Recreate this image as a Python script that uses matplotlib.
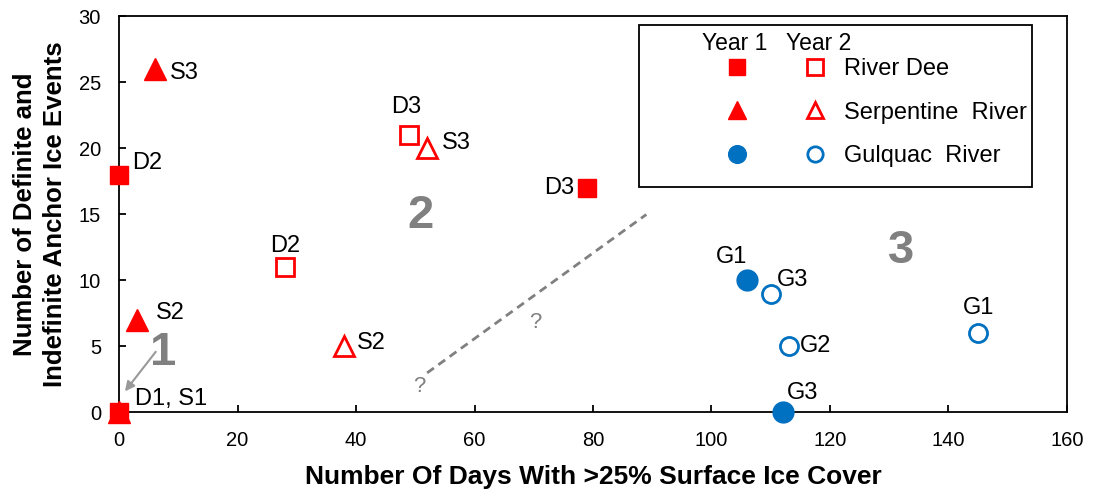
import matplotlib.pyplot as plt
from matplotlib.patches import Rectangle

plt.rcParams['font.family'] = ['Liberation Sans', 'DejaVu Sans']

RED = '#FF0000'
BLUE = '#0070C0'
GRAY = '#808080'

# data (x = days with >25% ice cover, y = anchor ice events)
dee_y1_x = [0, 0, 79]
dee_y1_y = [0, 18, 17]
dee_y1_lab = ['D1, S1', 'D2', 'D3']

dee_y2_x = [28, 49]
dee_y2_y = [11, 21]
dee_y2_lab = ['D2', 'D3']

serp_y1_x = [0, 3, 6]
serp_y1_y = [0, 7, 26]
serp_y1_lab = ['', 'S2', 'S3']

serp_y2_x = [38, 52]
serp_y2_y = [5, 20]
serp_y2_lab = ['S2', 'S3']

gul_y1_x = [106, 112]
gul_y1_y = [10, 0]
gul_y1_lab = ['G1', 'G3']

gul_y2_x = [145, 113, 110]
gul_y2_y = [6, 5, 9]
gul_y2_lab = ['G1', 'G2', 'G3']

rivers = ['River Dee', 'Serpentine  River', 'Gulquac  River']

guide_x = [52, 89]
guide_y = [3, 15]

# label offsets in pixels (dx, dy, ha)
dee_y1_off = [(16, 13, 'left'), (13, 12, 'left'), (-13, 0, 'right')]
dee_y2_off = [(0, 21, 'center'), (-3, 28, 'center')]
serp_y1_off = [(0, 0, 'left'), (19, 7, 'left'), (15, -4, 'left')]
serp_y2_off = [(13, 3, 'left'), (15, 5, 'left')]
gul_y1_off = [(-15, 23, 'center'), (20, 19, 'center')]
gul_y2_off = [(0, 25, 'center'), (11, 0, 'left'), (6, 14, 'left')]

fig = plt.figure(figsize=(10.94, 4.94), dpi=100)
ax = fig.add_axes([0.1088, 0.165, 0.8665, 0.8016])

# zone divider and zone numbers
ax.plot(guide_x, guide_y, ls=(0, (3, 2)), lw=2, color=GRAY, zorder=2)
ax.text(50.7, 2.0, '?', fontsize=16, color=GRAY, ha='center', va='center')
ax.text(70.2, 6.8, '?', fontsize=16, color=GRAY, ha='center', va='center')
ax.annotate('', xy=(1.0, 1.6), xytext=(6.2, 4.6),
            arrowprops=dict(arrowstyle='-|>', color='#999999', lw=1.5,
                            mutation_scale=14, shrinkA=0, shrinkB=0))
ax.text(7.4, 4.5, '1', fontsize=34, weight='bold', color=GRAY, ha='center', va='center')
ax.text(50.8, 14.9, '2', fontsize=34, weight='bold', color=GRAY, ha='center', va='center')
ax.text(132, 12.2, '3', fontsize=34, weight='bold', color=GRAY, ha='center', va='center')

series = [
    (dee_y1_x, dee_y1_y, dee_y1_lab, dee_y1_off, 's', RED, True, 13),
    (serp_y1_x, serp_y1_y, serp_y1_lab, serp_y1_off, '^', RED, True, 16),
    (gul_y1_x, gul_y1_y, gul_y1_lab, gul_y1_off, 'o', BLUE, True, 15),
    (dee_y2_x, dee_y2_y, dee_y2_lab, dee_y2_off, 's', RED, False, 13.5),
    (serp_y2_x, serp_y2_y, serp_y2_lab, serp_y2_off, '^', RED, False, 14),
    (gul_y2_x, gul_y2_y, gul_y2_lab, gul_y2_off, 'o', BLUE, False, 13),
]

handles = []
for xs, ys, labs, offs, mk, col, filled, ms in series:
    ln, = ax.plot(xs, ys, ls='none', marker=mk, ms=ms,
                  mfc=col if filled else 'white', mec=col,
                  mew=1 if filled else 2, clip_on=False, zorder=5)
    handles.append(ln)
    for x, y, lab, (dx, dy, ha) in zip(xs, ys, labs, offs):
        if lab:
            ax.annotate(lab, (x, y), xytext=(dx, dy), textcoords='offset pixels',
                        ha=ha, va='center', fontsize=17)

ax.legend(handles=handles, labels=['', '', ''] + rivers, ncol=2,
          loc='center left', bbox_to_anchor=(0.638, 0.757), frameon=False,
          fontsize=17, handlelength=1.15, handletextpad=0.68, columnspacing=1.45,
          labelspacing=0.92, borderpad=0, borderaxespad=0, markerscale=0.85,
          numpoints=1)
ax.add_patch(Rectangle((0.5485, 0.5694), 0.4145, 0.4091, transform=ax.transAxes,
                       fill=False, ec='black', lw=1.3, clip_on=False, zorder=6))
ax.text(0.649, 0.9306, 'Year 1', transform=ax.transAxes, fontsize=16.5,
        ha='center', va='center')
ax.text(0.738, 0.9306, 'Year 2', transform=ax.transAxes, fontsize=16.5,
        ha='center', va='center')

ax.set_xlim(0, 160)
ax.set_ylim(0, 30)
ax.set_xticks(range(0, 161, 20))
ax.set_yticks(range(0, 31, 5))
ax.tick_params(direction='in', length=5, width=1.3, labelsize=14.5, pad=13)
for s in ax.spines.values():
    s.set_linewidth(1.3)

ax.set_xlabel('Number Of Days With >25% Surface Ice Cover', fontsize=19,
              weight='bold', labelpad=11)
ax.set_ylabel('Number of Definite and\nIndefinite Anchor Ice Events', fontsize=18.5,
              weight='bold', labelpad=8, linespacing=1.35)

fig.savefig('out.png', dpi=100)
